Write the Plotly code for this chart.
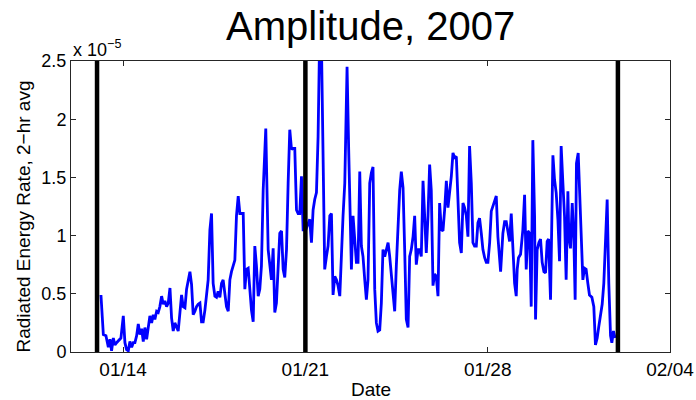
import pandas as pd
import plotly.graph_objects as go

# Radiated energy rate (units of 1e-5), 2-hr averages.
# Time is given in hours after 2007-01-13 00:00.
hours_since_0113 = [
    3.6, 5.8, 8.2, 10.4, 11.9, 13.4, 15.0, 16.5, 18.0, 20.5, 22.0, 24.2, 25.7, 27.2, 28.8,
    30.3, 31.9, 33.4, 34.9, 36.5, 38.0, 39.5, 41.1, 42.6, 44.1, 45.7, 47.2, 48.7, 50.3,
    51.8, 53.3, 54.9, 56.4, 57.9, 59.5, 61.0, 62.5, 64.1, 65.6, 67.2, 68.7, 70.2,
    71.7, 73.3, 74.8, 76.4, 77.9, 79.4, 81.0, 82.5, 84.0, 85.6, 87.1, 88.6, 90.2, 91.7,
    93.2, 94.8, 96.3, 97.8, 99.4, 100.9, 102.4, 104.0, 105.5, 107.0, 108.6, 110.1, 111.6,
    113.2, 114.7, 116.2, 117.8, 119.3, 120.9, 122.4, 123.9, 125.5, 127.0, 128.5, 130.1,
    131.6, 133.1, 134.7, 136.2, 137.7, 139.3, 140.8, 142.3, 143.9, 145.4, 146.9, 148.5,
    150.0, 151.5, 153.1, 155.5, 157.7, 159.2, 160.7, 162.3, 163.8, 165.3, 166.9, 168.4,
    170.0, 171.5, 173.0, 174.6, 176.1, 177.6, 179.2, 180.7, 182.2, 183.8, 185.3, 186.8,
    188.4, 189.9, 192.4, 196.0, 197.6, 199.1, 200.6, 202.2, 203.7, 205.2, 206.8, 208.3,
    209.8, 211.4, 212.9, 214.5, 216.0, 217.5, 219.1, 220.6, 222.1, 223.7, 225.2, 226.7,
    228.3, 230.4, 231.9, 232.9, 234.4, 235.9, 237.5, 239.0, 240.5, 242.1, 243.6, 245.1,
    246.7, 248.2, 249.7, 251.3, 252.8, 254.3, 255.9, 257.4, 258.9, 260.5, 262.0, 263.5,
    265.1, 266.6, 268.2, 269.7, 271.2, 272.8, 274.3, 275.8, 277.4, 278.9, 280.4, 282.0,
    283.5, 285.0, 286.6, 288.1, 289.6, 291.2, 292.7, 294.2, 295.8, 297.3, 298.8, 300.4,
    301.9, 303.4, 305.0,
    306.5, 308.0, 309.6, 311.1, 312.6, 314.2, 315.7, 317.3, 318.8, 320.3, 321.9, 323.4,
    324.9, 326.5, 328.0, 329.5, 331.1, 332.6, 334.1, 335.7, 337.2, 338.7, 340.3, 341.8,
    343.3, 344.9, 346.4, 347.9, 349.5, 351.0, 352.5, 354.1, 355.6, 357.2, 358.7, 360.2,
    361.8, 363.3, 364.8, 366.4, 367.9, 369.4, 371.9, 374.0, 375.6, 377.1, 378.6, 380.2,
    381.7, 383.2, 384.8,
    386.3, 387.2, 388.4, 390.3, 392.4, 394.0, 395.5, 397.0, 398.6, 400.1, 401.6, 403.2,
    404.1, 405.6, 407.2, 408.7, 410.2, 411.8, 413.3, 414.8, 416.1, 417.9, 420.1, 421.6,
    423.1, 424.7, 426.2, 427.7, 429.3, 430.8, 432.3, 433.9, 434.8, 436.3, 437.9, 439.4,
    440.6, 441.8, 443.4, 444.9, 446.1, 447.7, 449.2, 450.7, 452.3, 453.8, 456.0, 457.8,
    459.3, 460.9, 462.4, 463.9, 465.5, 467.0, 468.5, 470.1, 471.6, 473.2, 474.4, 475.9,
    477.4,
]

energy_e5 = [
    0.49, 0.15, 0.14, 0.04, 0.11, 0.01, 0.12, 0.06, 0.08, 0.10, 0.12, 0.31, 0.08, 0.02, 0.01,
    0.09, 0.04, 0.08, 0.08, 0.14, 0.24, 0.15, 0.20, 0.09, 0.21, 0.11, 0.22, 0.31, 0.25,
    0.32, 0.28, 0.35, 0.34, 0.39, 0.48, 0.41, 0.44, 0.39, 0.42, 0.55, 0.29, 0.18,
    0.25, 0.22, 0.18, 0.34, 0.49, 0.39, 0.38, 0.54, 0.62, 0.69, 0.58, 0.32, 0.35, 0.39,
    0.41, 0.42, 0.26, 0.26, 0.36, 0.51, 0.62, 1.05, 1.19, 0.59, 0.48, 0.47, 0.52,
    0.47, 0.59, 0.62, 0.48, 0.39, 0.35, 0.62, 0.69, 0.75, 0.79, 1.17, 1.34,
    1.19, 1.19, 1.19, 0.54, 0.71, 0.72, 0.51, 0.36, 0.26, 0.91, 0.74, 0.48,
    0.54, 0.74, 1.39, 1.92, 0.88, 0.77, 0.62, 0.89, 0.34, 0.42, 0.74, 1.02,
    1.04, 0.71, 0.64, 0.88, 1.45, 1.91, 1.74, 1.75, 1.75, 1.22, 1.19, 1.19,
    1.51, 1.05, 1.05, 1.14, 0.94, 1.22, 1.31, 1.37, 1.85, 2.75, 2.65, 1.51,
    0.71, 0.82, 0.91, 1.17, 1.19, 0.49, 0.65, 0.62, 0.57, 0.48, 0.88, 1.17,
    1.45, 2.45, 1.74, 1.19, 0.71, 1.17, 0.94, 0.77, 0.77, 1.55, 0.91, 0.82,
    0.62, 0.45, 0.62, 1.45, 1.54, 1.59, 0.54, 0.25, 0.18, 0.19, 0.42, 0.88,
    0.82, 0.87, 0.94, 0.82, 0.68, 0.48, 0.35, 0.74, 1.11, 1.39, 1.55, 1.41,
    0.88, 0.28, 0.21, 0.82, 0.88, 0.99, 1.17, 0.75, 0.88, 0.88, 0.82, 1.47,
    1.17, 0.85, 1.17,
    1.61, 1.39, 0.57, 0.67, 0.65, 0.48, 1.28, 1.05, 1.04, 1.22, 1.47, 1.24,
    1.37, 1.51, 1.71, 1.67, 1.68, 1.34, 0.94, 0.85, 1.28, 1.24, 1.17, 0.99,
    1.77, 1.45, 0.94, 0.91, 0.91, 1.11, 1.15, 1.02, 0.88, 0.81, 0.77, 0.77,
    0.94, 1.21, 1.25, 1.29, 1.34, 0.99, 0.69, 1.02, 1.12, 1.12, 1.04, 0.95,
    1.19, 0.88, 0.59,
    0.48, 0.71, 0.81, 0.84, 1.05, 1.35, 0.71, 1.04, 1.02, 0.39, 1.82, 1.17,
    0.28, 0.88, 0.94, 0.97, 0.77, 0.69, 0.68, 0.95, 0.97, 0.45, 1.69, 1.48,
    1.37, 1.14, 0.78, 1.77, 1.45, 1.17, 0.62, 1.38, 0.99, 0.89, 1.28, 0.97,
    0.45, 1.62, 1.71, 1.31, 0.99, 0.62, 0.72, 0.71, 0.59, 0.49, 0.47, 0.39,
    0.06, 0.12, 0.22, 0.32, 0.41, 0.59, 0.99, 1.31, 0.59, 0.14, 0.08, 0.18,
    0.12,
]

# Dates marked with heavy vertical bars
marker_dates = ["2007-01-13", "2007-01-21", "2007-02-02"]

# Axis ticks
x_tick_dates = ["2007-01-14", "2007-01-21", "2007-01-28", "2007-02-04"]
x_tick_labels = ["01/14", "01/21", "01/28", "02/04"]
y_tick_vals = [0, 0.5, 1, 1.5, 2, 2.5]
y_tick_labels = ["0", "0.5", "1", "1.5", "2", "2.5"]

times = pd.Timestamp("2007-01-13") + pd.to_timedelta(hours_since_0113, unit="h")

FONT = "Liberation Sans, Arial, Helvetica, sans-serif"
AXIS_COLOR = "#262626"

fig = go.Figure()
fig.add_trace(go.Scatter(
    x=times, y=energy_e5, mode="lines",
    line=dict(color="#0000ff", width=2.8),
    hoverinfo="skip", showlegend=False,
))

for d in marker_dates:
    fig.add_shape(type="line", xref="x", yref="paper",
                  x0=d, x1=d, y0=0, y1=1,
                  line=dict(color="black", width=4.5), layer="above")

fig.update_layout(
    width=696, height=400,
    margin=dict(l=71, r=26, t=61, b=48),
    paper_bgcolor="white", plot_bgcolor="white",
    font=dict(family=FONT, color="black"),
    title=dict(text="Amplitude, 2007", x=0.5325, xanchor="center",
               y=0.935, yanchor="middle", font=dict(size=40, family=FONT)),
    xaxis=dict(
        type="date", range=["2007-01-12", "2007-02-04"],
        tickmode="array", tickvals=x_tick_dates, ticktext=x_tick_labels,
        ticks="inside", ticklen=5, tickcolor=AXIS_COLOR,
        showline=True, linecolor=AXIS_COLOR, linewidth=1, mirror="ticks",
        showgrid=False, zeroline=False, automargin=False,
        tickfont=dict(size=19, family=FONT),
    ),
    yaxis=dict(
        range=[0, 2.5],
        tickmode="array", tickvals=y_tick_vals, ticktext=y_tick_labels,
        ticks="inside", ticklen=5, tickcolor=AXIS_COLOR,
        showline=True, linecolor=AXIS_COLOR, linewidth=1, mirror="ticks",
        showgrid=False, zeroline=False, automargin=False,
        tickfont=dict(size=18, family=FONT),
    ),
    annotations=[
        dict(text="x 10<sup>\u22125</sup>", xref="paper", yref="paper",
             x=0, y=1, xanchor="left", yanchor="bottom", showarrow=False,
             yshift=-1, font=dict(size=18, family=FONT)),
        dict(text="Radiated Energy Rate, 2\u2212hr avg", xref="paper", yref="paper",
             x=0, y=0.5, xanchor="center", yanchor="middle", xshift=-48,
             yshift=-10, textangle=-90, showarrow=False,
             font=dict(size=19, family=FONT)),
        dict(text="Date", xref="paper", yref="paper",
             x=0.5, y=0, xanchor="center", yanchor="middle", yshift=-37,
             showarrow=False, font=dict(size=19, family=FONT)),
    ],
)

fig.write_html("out.html")
